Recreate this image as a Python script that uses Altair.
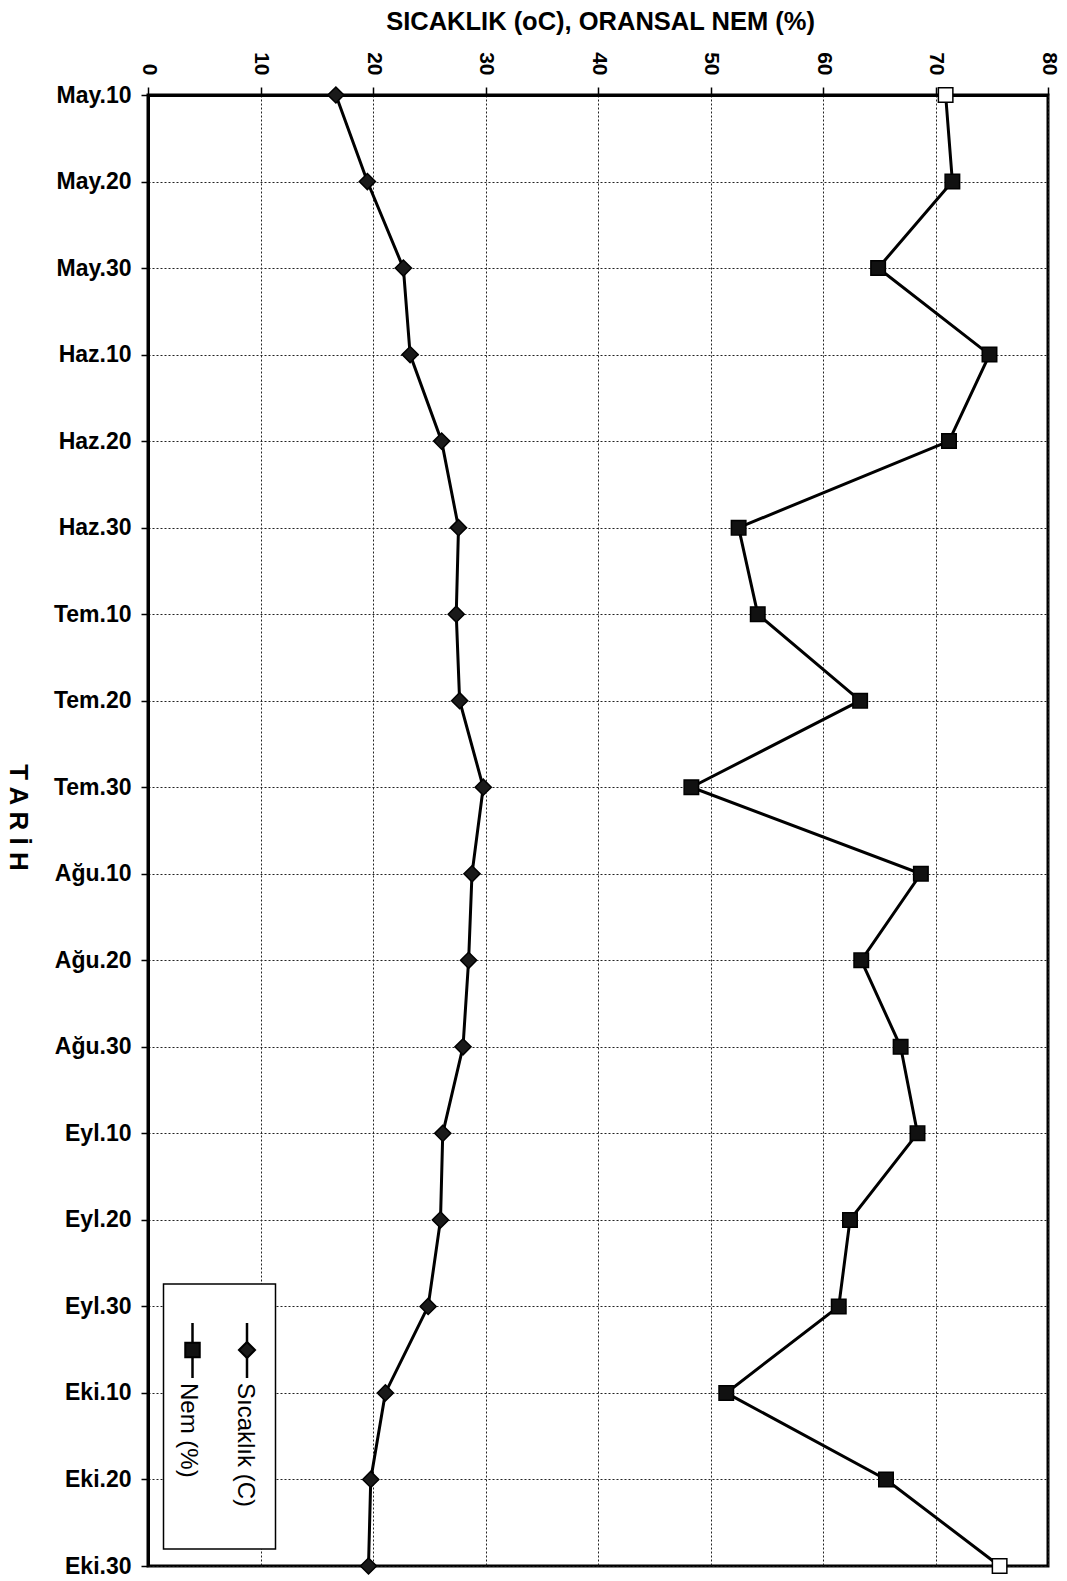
import altair as alt
import pandas as pd

dates = ["May.10", "May.20", "May.30", "Haz.10", "Haz.20", "Haz.30",
         "Tem.10", "Tem.20", "Tem.30", "Ağu.10", "Ağu.20", "Ağu.30",
         "Eyl.10", "Eyl.20", "Eyl.30", "Eki.10", "Eki.20", "Eki.30"]
sicaklik = [16.7, 19.5, 22.7, 23.3, 26.1, 27.6, 27.4, 27.7, 29.8,
            28.8, 28.5, 28.0, 26.2, 26.0, 24.9, 21.1, 19.8, 19.6]
nem = [70.9, 71.5, 64.9, 74.8, 71.2, 52.5, 54.2, 63.3, 48.3,
       68.7, 63.4, 66.9, 68.4, 62.4, 61.4, 51.4, 65.6, 75.7]
x_ticks = [0, 10, 20, 30, 40, 50, 60, 70, 80]
legend_labels = ["Sıcaklık (C)", "Nem (%)"]

FONT = "Liberation Sans"

rows = []
for i, d in enumerate(dates):
    rows.append({"Tarih": d, "idx": i, "Seri": legend_labels[0], "Deger": sicaklik[i]})
for i, d in enumerate(dates):
    rows.append({"Tarih": d, "idx": i, "Seri": legend_labels[1], "Deger": nem[i]})
df = pd.DataFrame(rows)

x_enc = alt.X(
    "Deger:Q",
    scale=alt.Scale(domain=[0, 80], nice=False, zero=True),
    axis=alt.Axis(
        orient="top", values=x_ticks, title="SICAKLIK (oC), ORANSAL NEM (%)",
        labelAngle=90, labelAlign="right", labelBaseline="middle",
        labelFont=FONT, labelFontSize=21, labelFontWeight="bold", labelColor="black", labelPadding=12,
        tickSize=8, tickColor="black", tickWidth=1.5,
        domain=True, domainColor="black", domainWidth=3,
        grid=True, gridColor="#222222", gridDash=[2, 2], gridWidth=1,
        titleFont=FONT, titleFontSize=25.5, titleFontWeight="bold", titleColor="black",
        titleX=452, titleY=-66, titleAlign="center", titleBaseline="alphabetic",
    ),
)
y_enc = alt.Y(
    "Tarih:N", sort=dates,
    scale=alt.Scale(type="point", padding=0),
    axis=alt.Axis(
        title="T A R İ H", titleAngle=90, titleX=-131, titleY=722,
        titleAlign="center", titleBaseline="middle",
        titleFont=FONT, titleFontSize=26, titleFontWeight="bold", titleColor="black",
        labelFont=FONT, labelFontSize=23, labelFontWeight="bold", labelColor="black", labelPadding=10,
        tickSize=7, tickColor="black", tickWidth=1.5,
        domain=True, domainColor="black", domainWidth=3,
        grid=True, gridColor="#222222", gridDash=[2, 2], gridWidth=1,
    ),
)

base = alt.Chart(df)

t_line = base.transform_filter(alt.datum.Seri == legend_labels[0]).mark_line(
    color="black", strokeWidth=3
).encode(x=x_enc, y=y_enc, order=alt.Order("idx:Q"))
t_pts = base.transform_filter(alt.datum.Seri == legend_labels[0]).mark_point(
    shape="diamond", size=260, filled=True, fill="#1a1a1a", stroke="black", strokeWidth=1.5, opacity=1
).encode(x=x_enc, y=y_enc)

n_line = base.transform_filter(alt.datum.Seri == legend_labels[1]).mark_line(
    color="black", strokeWidth=3
).encode(x=x_enc, y=y_enc, order=alt.Order("idx:Q"))
n_pts = base.transform_filter(alt.datum.Seri == legend_labels[1]).mark_point(
    shape="square", size=210, filled=True, stroke="black", strokeWidth=1.5, opacity=1
).encode(
    x=x_enc, y=y_enc,
    fill=alt.condition("datum.Tarih == 'May.10' || datum.Tarih == 'Eki.30'",
                       alt.value("white"), alt.value("#111111")),
)

# manual rotated legend
leg_df = pd.DataFrame({"Seri": legend_labels})
one = pd.DataFrame({"a": [0]})
leg_box = alt.Chart(one).mark_rect(
    fill="white", stroke="black", strokeWidth=1.5
).encode(x=alt.value(15.5), x2=alt.value(127.5), y=alt.value(1189), y2=alt.value(1454))

leg_t_rule = alt.Chart(one).mark_rule(color="black", strokeWidth=2.5).encode(
    x=alt.value(99), y=alt.value(1228), y2=alt.value(1283))
leg_t_pt = alt.Chart(one).mark_point(
    shape="diamond", size=260, filled=True, fill="#1a1a1a", stroke="black", opacity=1
).encode(x=alt.value(99), y=alt.value(1255))
leg_t_txt = alt.Chart(leg_df).transform_filter(alt.datum.Seri == legend_labels[0]).mark_text(
    angle=90, align="left", baseline="middle", font=FONT, fontSize=24, color="black"
).encode(x=alt.value(97), y=alt.value(1288), text="Seri:N")

leg_n_rule = alt.Chart(one).mark_rule(color="black", strokeWidth=2.5).encode(
    x=alt.value(44.5), y=alt.value(1228), y2=alt.value(1283))
leg_n_pt = alt.Chart(one).mark_point(
    shape="square", size=210, filled=True, fill="#111111", stroke="black", opacity=1
).encode(x=alt.value(44.5), y=alt.value(1255))
leg_n_txt = alt.Chart(leg_df).transform_filter(alt.datum.Seri == legend_labels[1]).mark_text(
    angle=90, align="left", baseline="middle", font=FONT, fontSize=24, color="black"
).encode(x=alt.value(40), y=alt.value(1288), text="Seri:N")

chart = alt.layer(
    t_line, t_pts, n_line, n_pts,
    leg_box, leg_t_rule, leg_t_pt, leg_t_txt, leg_n_rule, leg_n_pt, leg_n_txt,
).properties(
    width=900, height=1471,
    autosize=alt.AutoSizeParams(type="none"),
    padding={"left": 148, "top": 95, "right": 19, "bottom": 15},
    background="white",
).configure_view(stroke="black", strokeWidth=3)

chart.save("out.html", embed_options={"renderer": "svg", "actions": False})
